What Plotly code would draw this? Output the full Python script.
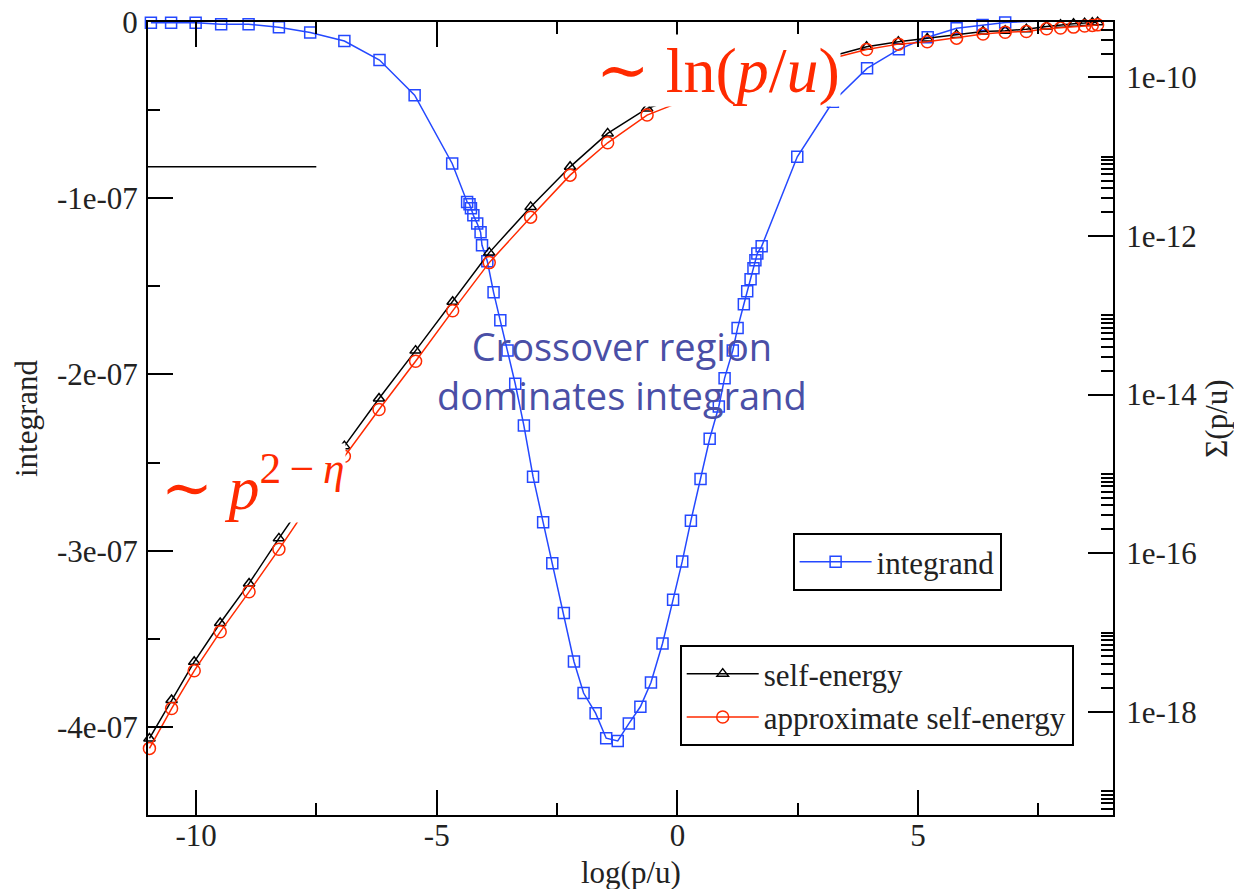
import plotly.graph_objects as go

# ---------------- data ----------------
# integrand (left, linear axis)
x_int = [-10.94, -10.52, -10.01, -9.48, -8.91, -8.28, -7.63, -6.92, -6.19, -5.46,
         -4.68, -4.37, -4.32, -4.29, -4.24, -4.16, -4.09, -4.06, -3.95, -3.82,
         -3.68, -3.53, -3.37, -3.19, -3.00, -2.79, -2.60, -2.36, -2.15, -1.95,
         -1.70, -1.48, -1.24, -1.01, -0.77, -0.55, -0.31, -0.09, 0.10, 0.28,
         0.48, 0.67, 0.86, 0.98, 1.15, 1.25, 1.38, 1.45, 1.52, 1.58,
         1.62, 1.66, 1.75, 2.49, 3.23, 3.94, 4.60, 5.20, 5.80, 6.34,
         6.81, 7.25, 7.67, 7.96, 8.23, 8.46, 8.62, 8.73]
integrand = [-0.004e-07, -0.004e-07, -0.004e-07, -0.013e-07, -0.013e-07, -0.030e-07,
             -0.059e-07, -0.108e-07, -0.216e-07, -0.415e-07, -0.803e-07, -1.021e-07,
             -1.034e-07, -1.057e-07, -1.097e-07, -1.144e-07, -1.193e-07, -1.267e-07,
             -1.358e-07, -1.534e-07, -1.693e-07, -1.864e-07, -2.053e-07, -2.290e-07,
             -2.580e-07, -2.839e-07, -3.072e-07, -3.354e-07, -3.629e-07, -3.808e-07,
             -3.922e-07, -4.064e-07, -4.080e-07, -3.981e-07, -3.886e-07, -3.748e-07,
             -3.527e-07, -3.278e-07, -3.061e-07, -2.830e-07, -2.593e-07, -2.365e-07,
             -2.182e-07, -2.021e-07, -1.864e-07, -1.737e-07, -1.602e-07, -1.528e-07,
             -1.460e-07, -1.398e-07, -1.352e-07, -1.313e-07, -1.273e-07, -0.765e-07,
             -0.453e-07, -0.263e-07, -0.155e-07, -0.087e-07, -0.036e-07, -0.017e-07,
             -0.003e-07, 0.003e-07, 0.006e-07, 0.009e-07, 0.011e-07, 0.014e-07,
             0.014e-07, 0.014e-07]

# self-energy curves (right, log axis)
x_se = [-10.97, -10.51, -10.04, -9.50, -8.90, -8.28, -7.63, -6.92, -6.20, -5.44,
        -4.67, -3.91, -3.05, -2.23, -1.45, -0.63, 0.21, 1.04, 1.81, 2.51,
        3.22, 3.93, 4.59, 5.19, 5.80, 6.35, 6.81, 7.25, 7.67, 7.96,
        8.23, 8.46, 8.62, 8.73]
self_energy = [4.62e-19, 1.41e-18, 4.27e-18, 1.32e-17, 4.16e-17, 1.54e-16, 5.73e-16,
               2.24e-15, 8.95e-15, 3.59e-14, 1.48e-13, 6.18e-13, 2.33e-12, 7.46e-12,
               1.97e-11, 4.06e-11, 6.15e-11, 8.97e-11, 1.20e-10, 1.51e-10, 1.86e-10,
               2.43e-10, 2.81e-10, 3.10e-10, 3.44e-10, 3.80e-10, 3.87e-10, 4.06e-10,
               4.40e-10, 4.63e-10, 4.76e-10, 4.84e-10, 4.91e-10, 4.98e-10]
approx_self_energy = [3.46e-19, 1.10e-18, 3.29e-18, 1.02e-17, 3.26e-17, 1.12e-16, 4.29e-16,
                      1.67e-15, 6.50e-15, 2.64e-14, 1.14e-13, 4.62e-13, 1.73e-12, 5.86e-12,
                      1.50e-11, 3.35e-11, 5.32e-11, 8.00e-11, 1.10e-10, 1.41e-10, 1.75e-10,
                      2.25e-10, 2.63e-10, 2.81e-10, 3.13e-10, 3.52e-10, 3.72e-10, 3.80e-10,
                      4.10e-10, 4.19e-10, 4.31e-10, 4.44e-10, 4.53e-10, 4.60e-10]

# ticks
x_ticks = [-10, -5, 0, 5]
x_ticklabels = ["-10", "-5", "0", "5"]
x_minor = [-7.5, -2.5, 2.5, 7.5]
y_ticks = [0, -1e-07, -2e-07, -3e-07, -4e-07]
y_ticklabels = ["0", "-1e-07", "-2e-07", "-3e-07", "-4e-07"]
y_minor = [-0.5e-07, -1.5e-07, -2.5e-07, -3.5e-07, -4.5e-07]
y2_ticks = [1e-18, 1e-16, 1e-14, 1e-12, 1e-10]
y2_ticklabels = ["1e-18", "1e-16", "1e-14", "1e-12", "1e-10"]
y2_minor = [m * 10.0 ** e for e in (-20, -18, -16, -14, -12, -10) for m in range(2, 11)]

BLUE = "#2448ff"
RED = "#ff2a00"
TXT = "#222222"
FS = 31

fig = go.Figure()
fig.add_trace(go.Scatter(
    x=x_int, y=integrand, name="integrand", mode="lines+markers",
    line=dict(color=BLUE, width=1.5),
    marker=dict(symbol="square-open", size=11, color=BLUE, line=dict(width=1.5, color=BLUE)),
    legend="legend", cliponaxis=False))
fig.add_trace(go.Scatter(
    x=x_se, y=self_energy, name="self-energy", mode="lines+markers", yaxis="y2",
    line=dict(color="black", width=1.5),
    marker=dict(symbol="triangle-up-open", size=10, color="black", line=dict(width=1.5, color="black")),
    legend="legend2", cliponaxis=False))
fig.add_trace(go.Scatter(
    x=x_se, y=approx_self_energy, name="approximate self-energy", mode="lines+markers", yaxis="y2",
    line=dict(color=RED, width=1.5),
    marker=dict(symbol="circle-open", size=12, color=RED, line=dict(width=1.5, color=RED)),
    legend="legend2", cliponaxis=False))

axis_common = dict(showgrid=False, zeroline=False, showline=True, linecolor="black", linewidth=2,
                   ticks="inside", ticklen=25, tickwidth=1.5, tickcolor="black", automargin=False,
                   tickfont=dict(size=FS, color=TXT), tickmode="array")

fig.update_layout(
    width=1234, height=889,
    margin=dict(l=148, r=121, t=22, b=74),
    paper_bgcolor="white", plot_bgcolor="white",
    font=dict(family="Liberation Serif", size=FS, color=TXT),
    xaxis=dict(range=[-11, 9.05], tickvals=x_ticks, ticktext=x_ticklabels, mirror="ticks",
               ticklabelstandoff=-8,
               minor=dict(tickmode="array", tickvals=x_minor, ticks="inside", ticklen=12,
                          tickwidth=1.5, tickcolor="black"),
               **axis_common),
    yaxis=dict(range=[-4.5e-07, 0], tickvals=y_ticks, ticktext=y_ticklabels,
               ticklabelstandoff=2,
               minor=dict(tickmode="array", tickvals=y_minor, ticks="inside", ticklen=12,
                          tickwidth=1.5, tickcolor="black"),
               title=dict(text="integrand", standoff=10, font=dict(size=FS, color=TXT)),
               **axis_common),
    yaxis2=dict(overlaying="y", side="right", type="log", range=[-19.301, -9.301],
                tickvals=y2_ticks, ticktext=y2_ticklabels, ticklabelstandoff=5,
                minor=dict(tickmode="array", tickvals=y2_minor, ticks="inside", ticklen=12,
                           tickwidth=1.5, tickcolor="black"),
                title=dict(text="Σ(p/u)", standoff=17, font=dict(size=FS, color=TXT)),
                **axis_common),
    legend=dict(x=0.668, y=0.3556, xanchor="left", yanchor="top", bgcolor="white",
                bordercolor="black", borderwidth=2, font=dict(size=FS, color=TXT),
                itemwidth=72, tracegroupgap=0),
    legend2=dict(x=0.551, y=0.2144, xanchor="left", yanchor="top", bgcolor="white",
                 bordercolor="black", borderwidth=2, font=dict(size=FS, color=TXT),
                 itemwidth=72, tracegroupgap=0),
    showlegend=True,
)

# x-axis title
fig.add_annotation(xref="paper", yref="paper", x=0.5, y=-0.0731, xanchor="center", yanchor="middle",
                   text="log(p/u)", showarrow=False, font=dict(size=FS, color=TXT))

fig.add_annotation(xref="paper", yref="paper", x=0.591, y=0.939, xanchor="center", yanchor="middle",
                   text="∼ ln(<i>p</i>/<i>u</i>)", showarrow=False, bgcolor="white", borderpad=0,
                   font=dict(family="Liberation Serif, DejaVu Serif", size=64, color=RED))
fig.add_annotation(xref="paper", yref="paper", x=0.109, y=0.4187, xanchor="center", yanchor="middle",
                   text="∼ <i>p</i><sup>2\u2009−\u2009<i>η</i></sup>", showarrow=False,
                   bgcolor="white", borderpad=0,
                   font=dict(family="Liberation Serif, DejaVu Serif", size=62, color=RED))
fig.add_annotation(xref="paper", yref="paper", x=0.491, y=0.561, xanchor="center", yanchor="middle",
                   text="Crossover region<br>dominates integrand", showarrow=False,
                   font=dict(family="Open Sans", size=38, color="#4a4fa6"))

fig.add_shape(type="line", xref="paper", yref="paper", x0=0, x1=0.1744, y0=0.8174, y1=0.8174,
              line=dict(color="black", width=1.5))

fig.write_html("out.html")
